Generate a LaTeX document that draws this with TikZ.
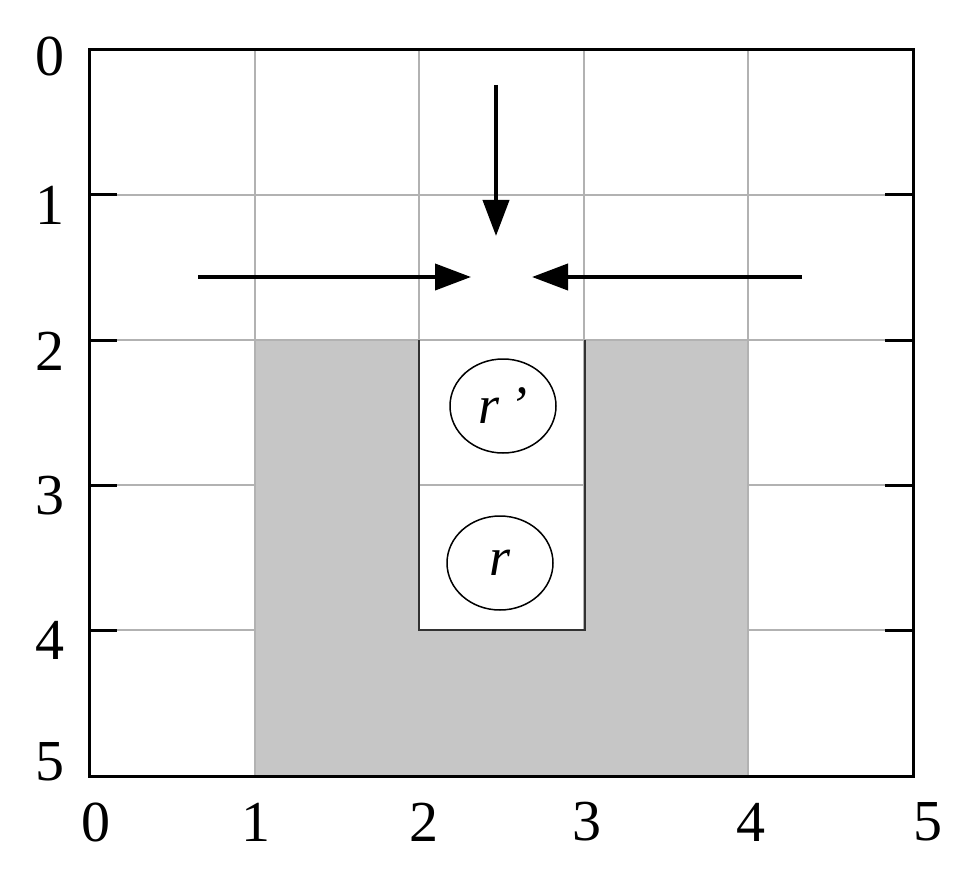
\documentclass[tikz,border=0pt]{standalone}
\usepackage{fontspec}
\setmainfont{Liberation Serif}
\usetikzlibrary{arrows.meta,shapes.geometric}
\definecolor{gridgray}{RGB}{178,178,178}
\definecolor{shadegray}{RGB}{198,198,198}
\definecolor{chandark}{RGB}{50,50,50}
\begin{document}
\begin{tikzpicture}[x=1pt,y=-1pt,
  gridline/.style={draw=gridgray, line width=2pt},
  frameline/.style={draw=black, line width=3pt},
  tickline/.style={draw=black, line width=3pt},
  shade/.style={fill=shadegray},
  channel/.style={draw=chandark, line width=2pt},
  lbl/.style={font=\fontsize{58}{58}\selectfont, inner sep=0pt},
  mover/.style={line width=4pt, -{Triangle[length=36pt,width=26pt]}},
  ball/.style={draw, line width=1.5pt, ellipse, inner sep=0pt, minimum width=106pt, minimum height=94pt, font=\fontsize{54}{54}\selectfont\itshape}
]
\useasboundingbox (0,0) rectangle (957,877);
\fill[white] (0,0) rectangle (957,877);
% grid
\foreach \x in {255,419,584,748} \draw[gridline] (\x,50) -- (\x,776);
\foreach \y in {195,340,485,630} \draw[gridline] (89,\y) -- (913,\y);
% shaded block
\fill[shade] (255,340) -- (419,340) -- (419,630) -- (585,630) -- (585,340) -- (748,340) -- (748,776) -- (255,776) -- cycle;
\draw[gridline] (255,340) -- (255,776);
\draw[gridline] (748,340) -- (748,776);
\draw[gridline] (89,340) -- (913,340);
% channel
\draw[channel] (419,340) -- (419,630) -- (585,630) -- (585,340);
% frame
\draw[frameline] (89,50) rectangle (913,776);
% ticks
\foreach \y in {195,340,485,630} {
  \draw[tickline] (89,\y) -- (117,\y);
  \draw[tickline] (885,\y) -- (913,\y);
}
% y labels
\node[lbl] (y0) at (50,56) {0};
\node[lbl] (y1) at (50,205) {1};
\node[lbl] (y2) at (50,351) {2};
\node[lbl] (y3) at (50,496) {3};
\node[lbl] (y4) at (50,640) {4};
\node[lbl] (y5) at (50,762) {5};
% x labels
\node[lbl] (x0) at (96,822) {0};
\node[lbl] (x1) at (256,822) {1};
\node[lbl] (x2) at (424,822) {2};
\node[lbl] (x3) at (587,822) {3};
\node[lbl] (x4) at (751,822) {4};
\node[lbl] (x5) at (928,822) {5};
% balls
\node[ball] (rp) at (503,406) {r\hspace{10pt}’};
\node[ball] (r) at (500,563) {r};
% arrows
\coordinate (dtop) at (496,85);
\coordinate (dtip) at (496,236);
\coordinate (lstart) at (198,277);
\coordinate (ltip) at (471,277);
\coordinate (rstart) at (802,277);
\coordinate (rtip) at (532,277);
\draw[mover] (dtop) -- (dtip);
\draw[mover] (lstart) -- (ltip);
\draw[mover] (rstart) -- (rtip);
\end{tikzpicture}
\end{document}
